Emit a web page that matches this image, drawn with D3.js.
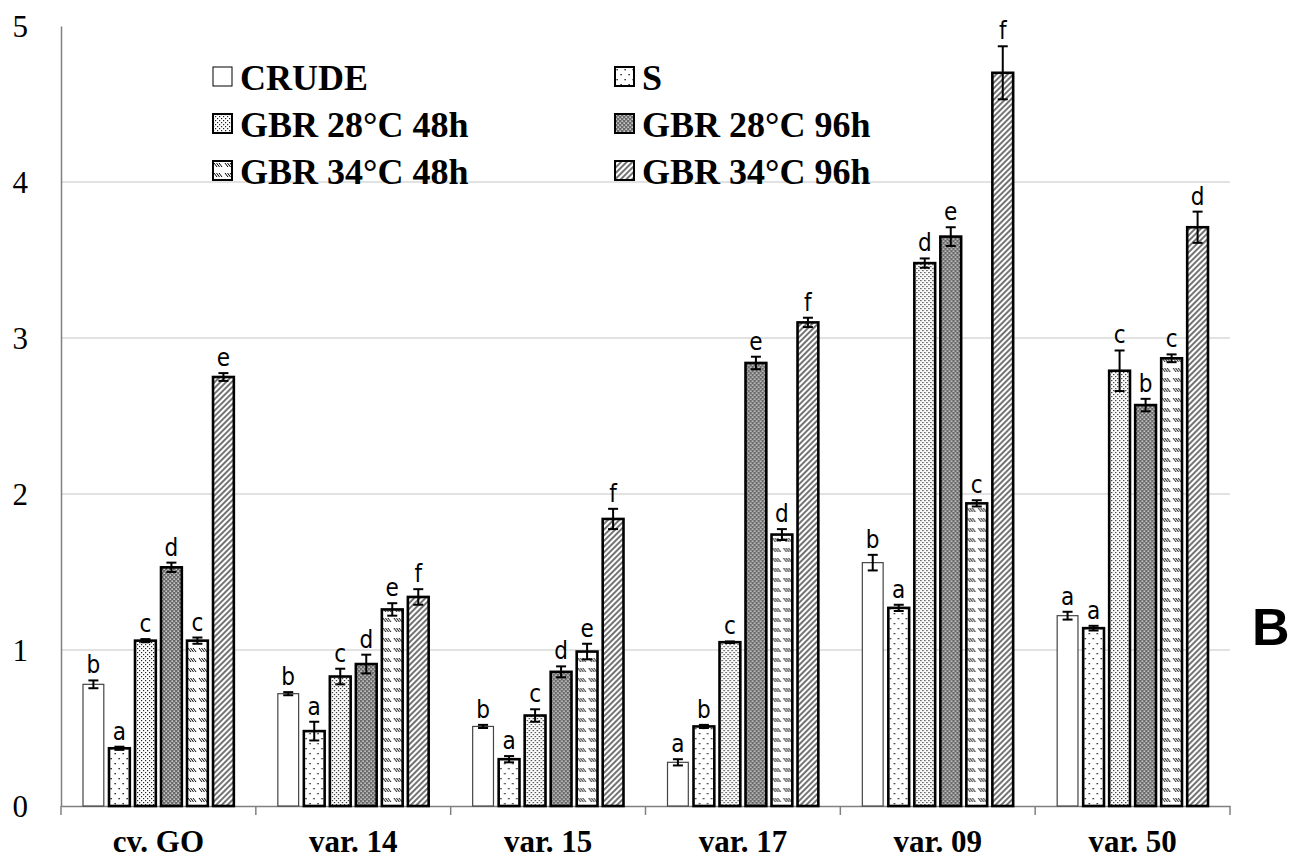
<!DOCTYPE html>
<html>
<head>
<meta charset="utf-8">
<script src="https://cdn.jsdelivr.net/npm/d3@7"></script>
<style>
  body { margin: 0; background: #fff; }
  .serif { font-family: "Liberation Serif", Tinos, "Times New Roman", Times, "Nimbus Roman", FreeSerif, "DejaVu Serif", serif; }
</style>
</head>
<body>
<svg class="bar_chart" width="1301" height="860"></svg>
<script>
var categories = ["cv. GO", "var. 14", "var. 15", "var. 17", "var. 09", "var. 50"];
var seriesNames = ["CRUDE", "S", "GBR 28°C 48h", "GBR 28°C 96h", "GBR 34°C 48h", "GBR 34°C 96h"];
var yTicks = [0, 1, 2, 3, 4, 5];

var crude      = [0.78, 0.72, 0.51, 0.28, 1.56, 1.22];
var crudeErr   = [0.025, 0.01, 0.01, 0.02, 0.05, 0.025];
var crudeSig   = ["b", "b", "b", "a", "b", "a"];
var s          = [0.37, 0.48, 0.30, 0.51, 1.27, 1.14];
var sErr       = [0.01, 0.06, 0.02, 0.01, 0.02, 0.015];
var sSig       = ["a", "a", "a", "b", "a", "a"];
var gbr2848    = [1.06, 0.83, 0.58, 1.05, 3.48, 2.79];
var gbr2848Err = [0.01, 0.05, 0.04, 0.005, 0.03, 0.13];
var gbr2848Sig = ["c", "c", "c", "c", "d", "c"];
var gbr2896    = [1.53, 0.91, 0.86, 2.84, 3.65, 2.57];
var gbr2896Err = [0.03, 0.06, 0.035, 0.04, 0.06, 0.04];
var gbr2896Sig = ["d", "d", "d", "e", "e", "b"];
var gbr3448    = [1.06, 1.26, 0.99, 1.74, 1.94, 2.87];
var gbr3448Err = [0.02, 0.04, 0.05, 0.035, 0.02, 0.025];
var gbr3448Sig = ["c", "e", "e", "d", "c", "c"];
var gbr3496    = [2.75, 1.34, 1.84, 3.10, 4.70, 3.71];
var gbr3496Err = [0.025, 0.05, 0.065, 0.03, 0.17, 0.10];
var gbr3496Sig = ["e", "f", "f", "f", "f", "d"];

var valueSets = [crude, s, gbr2848, gbr2896, gbr3448, gbr3496];
var errSets = [crudeErr, sErr, gbr2848Err, gbr2896Err, gbr3448Err, gbr3496Err];
var sigSets = [crudeSig, sSig, gbr2848Sig, gbr2896Sig, gbr3448Sig, gbr3496Sig];

var svg = d3.select(".bar_chart");
var margin = { top: 26, right: 71, bottom: 54, left: 61 };
var width = +svg.attr("width") - margin.left - margin.right;
var height = +svg.attr("height") - margin.top - margin.bottom;

// fill patterns for the series
var defs = svg.append("defs");
var fills = ["#fff"];

var p = defs.append("pattern").attr("id", "pS").attr("patternUnits", "userSpaceOnUse")
	.attr("width", 8).attr("height", 10);
p.append("rect").attr("width", 8).attr("height", 10).attr("fill", "#fff");
p.append("rect").attr("x", 1.5).attr("y", 2).attr("width", 1.3).attr("height", 1.3).attr("fill", "#000");
p.append("rect").attr("x", 5.5).attr("y", 7).attr("width", 1.3).attr("height", 1.3).attr("fill", "#000");
fills.push("url(#pS)");

p = defs.append("pattern").attr("id", "p2848").attr("patternUnits", "userSpaceOnUse")
	.attr("width", 4).attr("height", 4);
p.append("rect").attr("width", 4).attr("height", 4).attr("fill", "#fff");
p.append("rect").attr("x", 0).attr("y", 0).attr("width", 1.2).attr("height", 1.2).attr("fill", "#222");
p.append("rect").attr("x", 2).attr("y", 2).attr("width", 1.2).attr("height", 1.2).attr("fill", "#222");
fills.push("url(#p2848)");

p = defs.append("pattern").attr("id", "p2896").attr("patternUnits", "userSpaceOnUse")
	.attr("width", 4).attr("height", 4);
p.append("rect").attr("width", 4).attr("height", 4).attr("fill", "#6a6a6a");
p.append("rect").attr("x", 0.5).attr("y", 0.5).attr("width", 1.3).attr("height", 1.3).attr("fill", "#fff");
p.append("rect").attr("x", 2.5).attr("y", 2.5).attr("width", 1.3).attr("height", 1.3).attr("fill", "#fff");
fills.push("url(#p2896)");

p = defs.append("pattern").attr("id", "p3448").attr("patternUnits", "userSpaceOnUse")
	.attr("width", 11).attr("height", 10);
p.append("rect").attr("width", 11).attr("height", 10).attr("fill", "#fff");
[1, 3.5, 6].forEach(function (x) {
	p.append("line").attr("x1", x).attr("y1", 2).attr("x2", x + 3).attr("y2", 6)
		.attr("stroke", "#000").attr("stroke-width", 1);
});
fills.push("url(#p3448)");

p = defs.append("pattern").attr("id", "p3496").attr("patternUnits", "userSpaceOnUse")
	.attr("width", 4).attr("height", 4).attr("patternTransform", "rotate(45)");
p.append("rect").attr("width", 4).attr("height", 4).attr("fill", "#fff");
p.append("line").attr("x1", 1).attr("y1", 0).attr("x2", 1).attr("y2", 4)
	.attr("stroke", "#000").attr("stroke-width", 1.1);
fills.push("url(#p3496)");

var g = svg.append("g").attr("transform", "translate(" + margin.left + "," + margin.top + ")");

var x0 = d3.scaleBand().domain(categories).range([0, width]).padding(0);
var x1 = d3.scaleBand().domain(seriesNames).range([22, x0.bandwidth() - 22]).paddingInner(0.2).paddingOuter(0);
var y = d3.scaleLinear().domain([0, 5]).range([height, 0]);

// gridlines
g.append("g")
	.selectAll("line")
	.data(yTicks.filter(function (t) { return t > 0 && t < 5; }))
	.enter().append("line")
		.attr("x1", 0).attr("x2", width)
		.attr("y1", function (d) { return y(d); })
		.attr("y2", function (d) { return y(d); })
		.attr("stroke", "#d9d9d9").attr("stroke-width", 1.3);

// y axis
var yAxis = g.append("g")
	.call(d3.axisLeft(y).tickValues(yTicks).tickSize(0).tickPadding(33).tickFormat(d3.format("d")));
yAxis.attr("font-family", null).attr("font-size", null);
yAxis.select(".domain").attr("stroke", "#808080").attr("stroke-width", 1.5);
yAxis.selectAll("text")
	.attr("class", "serif")
	.style("font-size", "31px")
	.attr("fill", "#000")
	.attr("dy", "0.33em");

// x axis
var xAxis = g.append("g")
	.attr("transform", "translate(0," + height + ")")
	.call(d3.axisBottom(x0).tickSize(0).tickPadding(0));
xAxis.attr("font-family", null).attr("font-size", null);
xAxis.select(".domain").attr("stroke", "#808080").attr("stroke-width", 1.5);
xAxis.selectAll("text")
	.attr("class", "serif")
	.attr("y", 46)
	.attr("dy", 0)
	.style("font-size", "31px")
	.style("font-weight", "bold")
	.attr("fill", "#000");
xAxis.selectAll(".boundary")
	.data(d3.range(categories.length + 1))
	.enter().append("line")
		.attr("class", "boundary")
		.attr("x1", function (i) { return i * x0.step(); })
		.attr("x2", function (i) { return i * x0.step(); })
		.attr("y1", 0).attr("y2", 9)
		.attr("stroke", "#808080").attr("stroke-width", 1.5);

// bars
var rows = [];
categories.forEach(function (c, ci) {
	seriesNames.forEach(function (sn, si) {
		rows.push({ cat: c, series: sn, si: si, value: valueSets[si][ci], err: errSets[si][ci], sig: sigSets[si][ci] });
	});
});

var group = g.selectAll(".group")
	.data(rows)
	.enter().append("g")
		.attr("class", "group")
		.attr("transform", function (d) { return "translate(" + (x0(d.cat) + x1(d.series)) + ",0)"; });

group.append("rect")
	.attr("x", 0)
	.attr("width", x1.bandwidth())
	.attr("y", function (d) { return y(d.value); })
	.attr("height", function (d) { return height - y(d.value); })
	.attr("fill", function (d) { return fills[d.si]; })
	.attr("stroke", function (d) { return d.si === 0 ? "#444" : "#000"; })
	.attr("stroke-width", function (d) { return d.si === 0 ? 1.2 : 2.6; });

// error bars
var cx = x1.bandwidth() / 2;
group.append("line")
	.attr("x1", cx).attr("x2", cx)
	.attr("y1", function (d) { return y(d.value - d.err); })
	.attr("y2", function (d) { return y(d.value + d.err); })
	.attr("stroke", "#000").attr("stroke-width", 2);
[-1, 1].forEach(function (sgn) {
	group.append("line")
		.attr("x1", cx - 5).attr("x2", cx + 5)
		.attr("y1", function (d) { return y(d.value + sgn * d.err); })
		.attr("y2", function (d) { return y(d.value + sgn * d.err); })
		.attr("stroke", "#000").attr("stroke-width", 2);
});

// significance letters
group.append("text")
	.attr("x", cx)
	.attr("y", function (d) { return y(d.value + d.err) - 7; })
	.attr("text-anchor", "middle")
	.style("font-family", "'DejaVu Sans Condensed', 'DejaVu Sans', sans-serif")
	.style("font-size", "24px")
	.text(function (d) { return d.sig; });

// legend
var legend = g.selectAll(".legend")
	.data(seriesNames)
	.enter().append("g")
		.attr("class", "legend")
		.attr("transform", function (d, i) {
			return "translate(" + (152 + (i % 2) * 402) + "," + (67 - margin.top + Math.floor(i / 2) * 47) + ")";
		});

legend.append("rect")
	.attr("width", 19).attr("height", 19)
	.attr("fill", function (d, i) { return fills[i]; })
	.attr("stroke", "#000")
	.attr("stroke-width", function (d, i) { return i === 0 ? 1 : 2; });

legend.append("text")
	.attr("class", "serif")
	.attr("x", 27)
	.attr("y", 23)
	.style("font-size", "36px")
	.style("font-weight", "bold")
	.text(function (d) { return d; });

// panel letter
svg.append("text")
	.attr("x", 1252)
	.attr("y", 645)
	.style("font-family", "'Liberation Sans', Arial, sans-serif")
	.style("font-size", "52px")
	.style("font-weight", "bold")
	.text("B");
</script>
</body>
</html>
